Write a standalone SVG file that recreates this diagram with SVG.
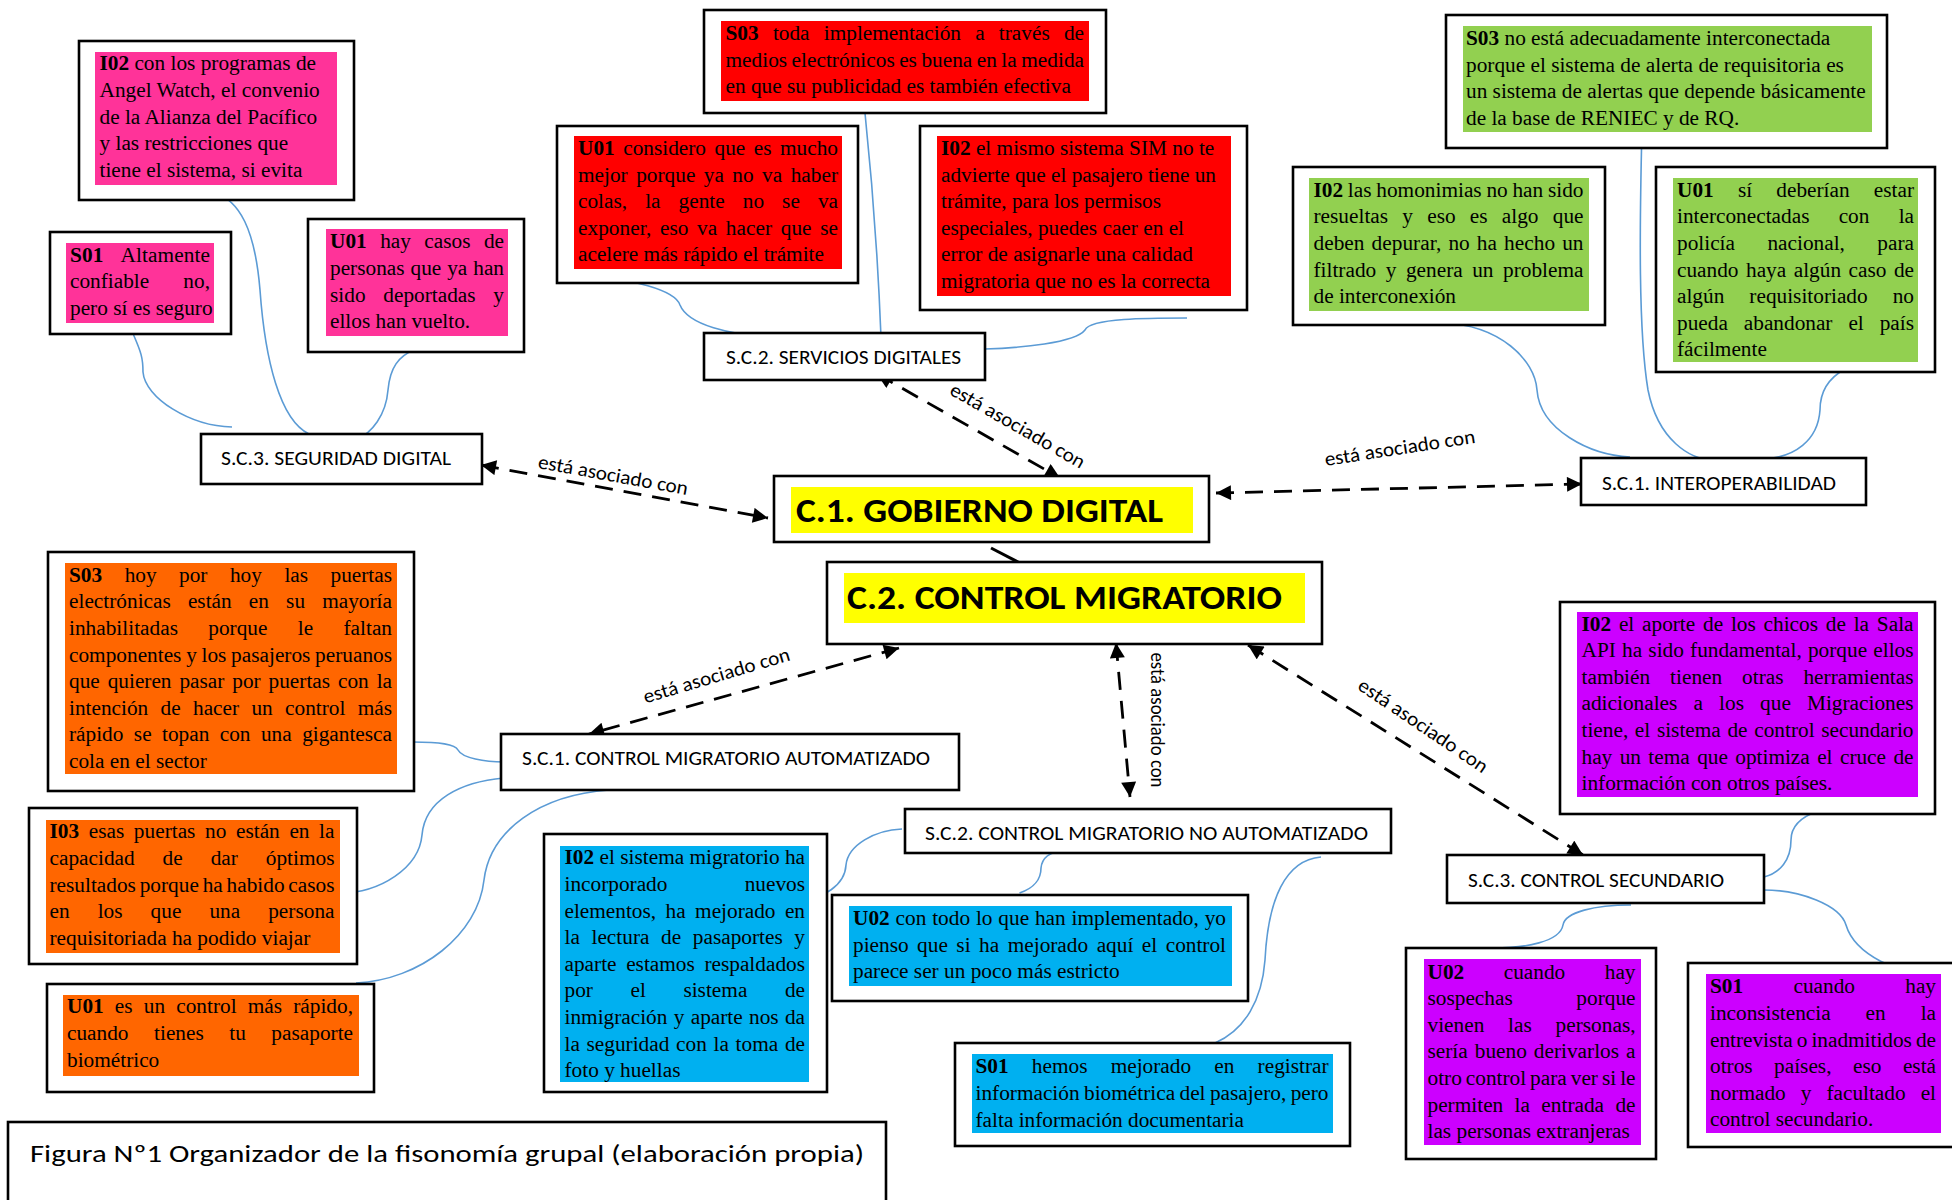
<svg xmlns="http://www.w3.org/2000/svg" width="1952" height="1200" viewBox="0 0 1952 1200">
<style>
.t{font-family:"Liberation Serif","Times New Roman",serif;font-size:21.3px;fill:#000}
.b{font-weight:bold}
.box{fill:#fff;stroke:#000;stroke-width:2.6}
.lbl{font-family:Carlito,Lato,sans-serif;font-size:20px;fill:#000}
.big{font-family:Carlito,Lato,sans-serif;font-size:35px;font-weight:bold;fill:#000}
.as{font-family:Carlito,Lato,sans-serif;font-size:20px;fill:#000;text-anchor:middle}
.conn{fill:none;stroke:#5B9BD5;stroke-width:1.6}
.arr{fill:none;stroke:#000;stroke-width:2.8;stroke-dasharray:18 11;marker-start:url(#ah);marker-end:url(#ah)}
.pink{fill:#FF3399}.red{fill:#FF0000}.green{fill:#92D050}.orange{fill:#FF6600}.blue{fill:#00B0F0}.purple{fill:#CC00FF}.yellow{fill:#FFFF00}
</style>
<defs>
<marker id="ah" viewBox="0 0 10 10" refX="10" refY="5" markerWidth="16" markerHeight="15" markerUnits="userSpaceOnUse" orient="auto-start-reverse"><path d="M0,0 L10,5 L0,10 z" fill="#000"/></marker>
</defs>
<rect x="0" y="0" width="1952" height="1200" fill="#fff"/>

<g id="connectors">
<path class="conn" d="M133.6,335 C141,352 143,358 143,372 C145,398 190,426 232,427"/>
<path class="conn" d="M213,192 C240,200 255,230 260,290 C265,360 280,420 309,434"/>
<path class="conn" d="M416,349 C398,356 390,368 388,390 C386,415 372,433 356,440"/>
<path class="conn" d="M587,277 C630,278 675,290 680,305 C688,325 730,335 774,337"/>
<path class="conn" d="M865,113 C872,180 878,260 881,337"/>
<path class="conn" d="M1187,318 C1150,318 1090,318 1085,330 C1075,343 1020,348 985,349"/>
<path class="conn" d="M1443,323 C1500,325 1535,360 1537,390 C1540,430 1590,455 1630,457"/>
<path class="conn" d="M1641.5,149 C1640,220 1638,330 1648,390 C1658,440 1690,460 1714,460"/>
<path class="conn" d="M1845,369 C1825,380 1820,395 1820,410 C1818,440 1795,458 1762,459"/>
<path class="conn" d="M413,742 C440,742 455,744 458,750 C462,758 485,762 504,762"/>
<path class="conn" d="M504,778 C460,782 425,800 422,835 C419,868 380,893 340,893"/>
<path class="conn" d="M609,790 C540,795 490,830 484,880 C478,935 420,980 356,983"/>
<path class="conn" d="M793,904 C825,898 845,885 846,865 C848,845 875,830 902,829"/>
<path class="conn" d="M1019.5,893 C1035,888 1041,878 1041,868 C1042,858 1050,852 1063,851"/>
<path class="conn" d="M1215,1043 C1245,1030 1262,1000 1265,960 C1268,900 1285,860 1321,857"/>
<path class="conn" d="M1818,811 C1798,818 1791,828 1791,840 C1791,860 1780,873 1764,877"/>
<path class="conn" d="M1764,890 C1800,890 1840,905 1846,925 C1855,955 1900,975 1934,975"/>
<path class="conn" d="M1631,905 C1595,905 1565,912 1563,925 C1560,942 1525,948 1493,948"/>
<path class="arr" d="M481,465 L768,518"/>
<path class="arr" d="M877,374 L1060,478"/>
<path class="arr" d="M1216,493 L1582,484"/>
<path class="arr" d="M899,648 L589,734"/>
<path class="arr" d="M1116,643 L1130,797"/>
<path class="arr" d="M1248,645 L1583,855"/>
<path d="M991,548 L1020,563" stroke="#000" stroke-width="3" fill="none"/>
<text class="as" x="612" y="481.5" textLength="152" lengthAdjust="spacingAndGlyphs" transform="rotate(10.3 612 481.5)">está asociado con</text>
<text class="as" x="1014.4" y="431.3" textLength="152" lengthAdjust="spacingAndGlyphs" transform="rotate(29.7 1014.4 431.3)">está asociado con</text>
<text class="as" x="1400.8" y="454.4" textLength="152" lengthAdjust="spacingAndGlyphs" transform="rotate(-8.8 1400.8 454.4)">está asociado con</text>
<text class="as" x="718.3" y="681.8" textLength="152" lengthAdjust="spacingAndGlyphs" transform="rotate(-16.5 718.3 681.8)">está asociado con</text>
<text class="as" x="1151" y="720" textLength="135" lengthAdjust="spacingAndGlyphs" transform="rotate(90 1151 720)">está asociado con</text>
<text class="as" x="1419.5" y="731.1" textLength="152" lengthAdjust="spacingAndGlyphs" transform="rotate(34.1 1419.5 731.1)">está asociado con</text>
</g>

<g id="c1-gobierno-digital">
<rect class="box" x="774" y="476" width="435" height="66"/>
<rect class="yellow" x="791" y="487" width="402" height="46"/>
<text class="big" x="796" y="521.5" textLength="367" lengthAdjust="spacingAndGlyphs">C.1. GOBIERNO DIGITAL</text>
</g>
<g id="c2-control-migratorio">
<rect class="box" x="827" y="562" width="495" height="82"/>
<rect class="yellow" x="844" y="573" width="461" height="50"/>
<text class="big" x="847" y="608.5" textLength="435" lengthAdjust="spacingAndGlyphs">C.2. CONTROL MIGRATORIO</text>
</g>

<g id="sc3-seguridad-digital">
<rect class="box" x="201" y="434" width="281" height="50"/>
<text class="lbl" x="221" y="465" textLength="230" lengthAdjust="spacingAndGlyphs">S.C.3. SEGURIDAD DIGITAL</text>
</g>
<g id="sc2-servicios-digitales">
<rect class="box" x="704" y="333" width="281" height="47"/>
<text class="lbl" x="726" y="363.5" textLength="235" lengthAdjust="spacingAndGlyphs">S.C.2. SERVICIOS DIGITALES</text>
</g>
<g id="sc1-interoperabilidad">
<rect class="box" x="1581" y="458" width="285" height="47"/>
<text class="lbl" x="1602" y="490" textLength="234" lengthAdjust="spacingAndGlyphs">S.C.1. INTEROPERABILIDAD</text>
</g>
<g id="sc1-cma">
<rect class="box" x="501" y="734" width="458" height="56"/>
<text class="lbl" x="522" y="765" textLength="408" lengthAdjust="spacingAndGlyphs">S.C.1. CONTROL MIGRATORIO AUTOMATIZADO</text>
</g>
<g id="sc2-cmna">
<rect class="box" x="905" y="809" width="486" height="44"/>
<text class="lbl" x="925" y="840" textLength="443" lengthAdjust="spacingAndGlyphs">S.C.2. CONTROL MIGRATORIO NO AUTOMATIZADO</text>
</g>
<g id="sc3-control-secundario">
<rect class="box" x="1447" y="855" width="317" height="48"/>
<text class="lbl" x="1468" y="886.5" textLength="256" lengthAdjust="spacingAndGlyphs">S.C.3. CONTROL SECUNDARIO</text>
</g>

<g id="n-i02-pink">
<rect class="box" x="79" y="41" width="275" height="159"/>
<rect class="pink" x="95" y="52" width="242" height="133"/>
<text class="t" x="99.5" y="70.3"><tspan class="b">I02</tspan> con los programas de</text>
<text class="t" x="99.5" y="96.9">Angel Watch, el convenio</text>
<text class="t" x="99.5" y="123.5">de la Alianza del Pacífico</text>
<text class="t" x="99.5" y="150.1">y las restricciones que</text>
<text class="t" x="99.5" y="176.7">tiene el sistema, si evita</text>
</g>
<g id="n-s01-pink">
<rect class="box" x="50" y="232" width="181" height="102"/>
<rect class="pink" x="66" y="243" width="148" height="80"/>
<text class="t" x="70" y="261.7" textLength="140" lengthAdjust="spacing" style="word-spacing:12.8px"><tspan class="b">S01</tspan> Altamente</text>
<text class="t" x="70" y="288.3" textLength="140" lengthAdjust="spacing" style="word-spacing:28.8px">confiable no,</text>
<text class="t" x="70" y="314.9">pero sí es seguro</text>
</g>
<g id="n-u01-pink">
<rect class="box" x="308" y="219" width="216" height="133"/>
<rect class="pink" x="326" y="229" width="182" height="107"/>
<text class="t" x="330" y="248.3" textLength="174" lengthAdjust="spacing" style="word-spacing:8.1px"><tspan class="b">U01</tspan> hay casos de</text>
<text class="t" x="330" y="274.9" textLength="174" lengthAdjust="spacing" style="word-spacing:0.6px">personas que ya han</text>
<text class="t" x="330" y="301.5" textLength="174" lengthAdjust="spacing" style="word-spacing:12.4px">sido deportadas y</text>
<text class="t" x="330" y="328.1">ellos han vuelto.</text>
</g>

<g id="n-s03-red">
<rect class="box" x="704" y="10" width="402" height="103"/>
<rect class="red" x="721" y="21" width="368" height="80"/>
<text class="t" x="725.5" y="40" textLength="358.5" lengthAdjust="spacing" style="word-spacing:8.9px"><tspan class="b">S03</tspan> toda implementación a través de</text>
<text class="t" x="725.5" y="66.6" textLength="358.5" lengthAdjust="spacing" style="word-spacing:-0.9px">medios electrónicos es buena en la medida</text>
<text class="t" x="725.5" y="93.2">en que su publicidad es también efectiva</text>
</g>
<g id="n-u01-red">
<rect class="box" x="557" y="126" width="301" height="157"/>
<rect class="red" x="574" y="136" width="268" height="133"/>
<text class="t" x="578" y="155" textLength="260" lengthAdjust="spacing" style="word-spacing:3.2px"><tspan class="b">U01</tspan> considero que es mucho</text>
<text class="t" x="578" y="181.6" textLength="260" lengthAdjust="spacing" style="word-spacing:3.1px">mejor porque ya no va haber</text>
<text class="t" x="578" y="208.2" textLength="260" lengthAdjust="spacing" style="word-spacing:12.7px">colas, la gente no se va</text>
<text class="t" x="578" y="234.8" textLength="260" lengthAdjust="spacing" style="word-spacing:3.3px">exponer, eso va hacer que se</text>
<text class="t" x="578" y="261.4">acelere más rápido el trámite</text>
</g>
<g id="n-i02-red">
<rect class="box" x="920" y="126" width="327" height="184"/>
<rect class="red" x="937" y="136" width="294" height="160"/>
<text class="t" x="941" y="155"><tspan class="b">I02</tspan> el mismo sistema SIM no te</text>
<text class="t" x="941" y="181.6">advierte que el pasajero tiene un</text>
<text class="t" x="941" y="208.2">trámite, para los permisos</text>
<text class="t" x="941" y="234.8">especiales, puedes caer en el</text>
<text class="t" x="941" y="261.4">error de asignarle una calidad</text>
<text class="t" x="941" y="288">migratoria que no es la correcta</text>
</g>

<g id="n-s03-green">
<rect class="box" x="1446" y="15" width="441" height="133"/>
<rect class="green" x="1463" y="26" width="409" height="106"/>
<text class="t" x="1466" y="45"><tspan class="b">S03</tspan> no está adecuadamente interconectada</text>
<text class="t" x="1466" y="71.6">porque el sistema de alerta de requisitoria es</text>
<text class="t" x="1466" y="98.2">un sistema de alertas que depende básicamente</text>
<text class="t" x="1466" y="124.8">de la base de RENIEC y de RQ.</text>
</g>
<g id="n-i02-green">
<rect class="box" x="1293" y="167" width="312" height="158"/>
<rect class="green" x="1309" y="178" width="280" height="133"/>
<text class="t" x="1313.5" y="196.7" textLength="270" lengthAdjust="spacing" style="word-spacing:-0.6px"><tspan class="b">I02</tspan> las homonimias no han sido</text>
<text class="t" x="1313.5" y="223.3" textLength="270" lengthAdjust="spacing" style="word-spacing:8.9px">resueltas y eso es algo que</text>
<text class="t" x="1313.5" y="249.9" textLength="270" lengthAdjust="spacing" style="word-spacing:1.7px">deben depurar, no ha hecho un</text>
<text class="t" x="1313.5" y="276.5" textLength="270" lengthAdjust="spacing" style="word-spacing:4.2px">filtrado y genera un problema</text>
<text class="t" x="1313.5" y="303.1">de interconexión</text>
</g>
<g id="n-u01-green">
<rect class="box" x="1656" y="167" width="279" height="205"/>
<rect class="green" x="1673" y="178" width="245" height="184"/>
<text class="t" x="1677" y="196.7" textLength="237" lengthAdjust="spacing" style="word-spacing:18.9px"><tspan class="b">U01</tspan> sí deberían estar</text>
<text class="t" x="1677" y="223.3" textLength="237" lengthAdjust="spacing" style="word-spacing:23.9px">interconectadas con la</text>
<text class="t" x="1677" y="249.9" textLength="237" lengthAdjust="spacing" style="word-spacing:27.1px">policía nacional, para</text>
<text class="t" x="1677" y="276.5" textLength="237" lengthAdjust="spacing" style="word-spacing:2.2px">cuando haya algún caso de</text>
<text class="t" x="1677" y="303.1" textLength="237" lengthAdjust="spacing" style="word-spacing:19.7px">algún requisitoriado no</text>
<text class="t" x="1677" y="329.7" textLength="237" lengthAdjust="spacing" style="word-spacing:10.6px">pueda abandonar el país</text>
<text class="t" x="1677" y="356.3">fácilmente</text>
</g>

<g id="n-s03-orange">
<rect class="box" x="48" y="552" width="366" height="239"/>
<rect class="orange" x="65" y="563" width="332" height="211"/>
<text class="t" x="69" y="581.7" textLength="323" lengthAdjust="spacing" style="word-spacing:17.2px"><tspan class="b">S03</tspan> hoy por hoy las puertas</text>
<text class="t" x="69" y="608.3" textLength="323" lengthAdjust="spacing" style="word-spacing:11.8px">electrónicas están en su mayoría</text>
<text class="t" x="69" y="634.9" textLength="323" lengthAdjust="spacing" style="word-spacing:25px">inhabilitadas porque le faltan</text>
<text class="t" x="69" y="661.5" textLength="323" lengthAdjust="spacing" style="word-spacing:-0.6px">componentes y los pasajeros peruanos</text>
<text class="t" x="69" y="688.1" textLength="323" lengthAdjust="spacing" style="word-spacing:2.6px">que quieren pasar por puertas con la</text>
<text class="t" x="69" y="714.7" textLength="323" lengthAdjust="spacing" style="word-spacing:7px">intención de hacer un control más</text>
<text class="t" x="69" y="741.3" textLength="323" lengthAdjust="spacing" style="word-spacing:5.1px">rápido se topan con una gigantesca</text>
<text class="t" x="69" y="767.9">cola en el sector</text>
</g>
<g id="n-i03-orange">
<rect class="box" x="29" y="808" width="328" height="156"/>
<rect class="orange" x="46" y="820" width="294" height="133"/>
<text class="t" x="49.5" y="838.3" textLength="285" lengthAdjust="spacing" style="word-spacing:4.3px"><tspan class="b">I03</tspan> esas puertas no están en la</text>
<text class="t" x="49.5" y="864.9" textLength="285" lengthAdjust="spacing" style="word-spacing:22.6px">capacidad de dar óptimos</text>
<text class="t" x="49.5" y="891.5" textLength="285" lengthAdjust="spacing" style="word-spacing:-1.5px">resultados porque ha habido casos</text>
<text class="t" x="49.5" y="918.1" textLength="285" lengthAdjust="spacing" style="word-spacing:22.7px">en los que una persona</text>
<text class="t" x="49.5" y="944.7">requisitoriada ha podido viajar</text>
</g>
<g id="n-u01-orange">
<rect class="box" x="47" y="984" width="327" height="108"/>
<rect class="orange" x="63" y="995" width="296" height="81"/>
<text class="t" x="67" y="1013.3" textLength="286" lengthAdjust="spacing" style="word-spacing:5.8px"><tspan class="b">U01</tspan> es un control más rápido,</text>
<text class="t" x="67" y="1039.9" textLength="286" lengthAdjust="spacing" style="word-spacing:20.2px">cuando tienes tu pasaporte</text>
<text class="t" x="67" y="1066.5">biométrico</text>
</g>

<g id="n-i02-blue">
<rect class="box" x="544" y="834" width="283" height="258"/>
<rect class="blue" x="560" y="846" width="249" height="236"/>
<text class="t" x="564.5" y="864.3" textLength="240.5" lengthAdjust="spacing"><tspan class="b">I02</tspan> el sistema migratorio ha</text>
<text class="t" x="564.5" y="890.9" textLength="240.5" lengthAdjust="spacing" style="word-spacing:71.9px">incorporado nuevos</text>
<text class="t" x="564.5" y="917.5" textLength="240.5" lengthAdjust="spacing" style="word-spacing:4.1px">elementos, ha mejorado en</text>
<text class="t" x="564.5" y="944.1" textLength="240.5" lengthAdjust="spacing" style="word-spacing:6.3px">la lectura de pasaportes y</text>
<text class="t" x="564.5" y="970.7" textLength="240.5" lengthAdjust="spacing" style="word-spacing:4.3px">aparte estamos respaldados</text>
<text class="t" x="564.5" y="997.3" textLength="240.5" lengthAdjust="spacing" style="word-spacing:32.2px">por el sistema de</text>
<text class="t" x="564.5" y="1023.9" textLength="240.5" lengthAdjust="spacing" style="word-spacing:1px">inmigración y aparte nos da</text>
<text class="t" x="564.5" y="1050.5" textLength="240.5" lengthAdjust="spacing" style="word-spacing:1.4px">la seguridad con la toma de</text>
<text class="t" x="564.5" y="1077.1">foto y huellas</text>
</g>
<g id="n-u02-blue">
<rect class="box" x="832" y="895" width="416" height="106"/>
<rect class="blue" x="849" y="906" width="383" height="80"/>
<text class="t" x="853" y="925" textLength="373" lengthAdjust="spacing" style="word-spacing:0.5px"><tspan class="b">U02</tspan> con todo lo que han implementado, yo</text>
<text class="t" x="853" y="951.6" textLength="373" lengthAdjust="spacing" style="word-spacing:3.2px">pienso que si ha mejorado aquí el control</text>
<text class="t" x="853" y="978.2">parece ser un poco más estricto</text>
</g>
<g id="n-s01-blue">
<rect class="box" x="955" y="1043" width="395" height="103"/>
<rect class="blue" x="972" y="1054" width="361" height="79"/>
<text class="t" x="975.5" y="1073.3" textLength="353" lengthAdjust="spacing" style="word-spacing:17.9px"><tspan class="b">S01</tspan> hemos mejorado en registrar</text>
<text class="t" x="975.5" y="1099.9" textLength="353" lengthAdjust="spacing" style="word-spacing:-0.9px">información biométrica del pasajero, pero</text>
<text class="t" x="975.5" y="1126.5">falta información documentaria</text>
</g>

<g id="n-i02-purple">
<rect class="box" x="1560" y="602" width="375" height="212"/>
<rect class="purple" x="1577" y="612" width="341" height="185"/>
<text class="t" x="1581.5" y="630.6" textLength="332" lengthAdjust="spacing" style="word-spacing:2.5px"><tspan class="b">I02</tspan> el aporte de los chicos de la Sala</text>
<text class="t" x="1581.5" y="657.2" textLength="332" lengthAdjust="spacing" style="word-spacing:0.9px">API ha sido fundamental, porque ellos</text>
<text class="t" x="1581.5" y="683.8" textLength="332" lengthAdjust="spacing" style="word-spacing:14.6px">también tienen otras herramientas</text>
<text class="t" x="1581.5" y="710.4" textLength="332" lengthAdjust="spacing" style="word-spacing:10.8px">adicionales a los que Migraciones</text>
<text class="t" x="1581.5" y="737" textLength="332" lengthAdjust="spacing" style="word-spacing:1.3px">tiene, el sistema de control secundario</text>
<text class="t" x="1581.5" y="763.6" textLength="332" lengthAdjust="spacing" style="word-spacing:2.1px">hay un tema que optimiza el cruce de</text>
<text class="t" x="1581.5" y="790.2">información con otros países.</text>
</g>
<g id="n-u02-purple">
<rect class="box" x="1406" y="948" width="250" height="211"/>
<rect class="purple" x="1424" y="959" width="217" height="186"/>
<text class="t" x="1427.5" y="978.6" textLength="208" lengthAdjust="spacing" style="word-spacing:34.2px"><tspan class="b">U02</tspan> cuando hay</text>
<text class="t" x="1427.5" y="1005.2" textLength="208" lengthAdjust="spacing" style="word-spacing:58.3px">sospechas porque</text>
<text class="t" x="1427.5" y="1031.8" textLength="208" lengthAdjust="spacing" style="word-spacing:18.5px">vienen las personas,</text>
<text class="t" x="1427.5" y="1058.4" textLength="208" lengthAdjust="spacing" style="word-spacing:1.7px">sería bueno derivarlos a</text>
<text class="t" x="1427.5" y="1085" textLength="208" lengthAdjust="spacing" style="word-spacing:-1.3px">otro control para ver si le</text>
<text class="t" x="1427.5" y="1111.6" textLength="208" lengthAdjust="spacing" style="word-spacing:6px">permiten la entrada de</text>
<text class="t" x="1427.5" y="1138.2">las personas extranjeras</text>
</g>
<g id="n-s01-purple">
<rect class="box" x="1688" y="963" width="270" height="184"/>
<rect class="purple" x="1706" y="974" width="235" height="159"/>
<text class="t" x="1710" y="993.3" textLength="226" lengthAdjust="spacing" style="word-spacing:45px"><tspan class="b">S01</tspan> cuando hay</text>
<text class="t" x="1710" y="1019.9" textLength="226" lengthAdjust="spacing" style="word-spacing:29.6px">inconsistencia en la</text>
<text class="t" x="1710" y="1046.5" textLength="226" lengthAdjust="spacing" style="word-spacing:-1.2px">entrevista o inadmitidos de</text>
<text class="t" x="1710" y="1073.1" textLength="226" lengthAdjust="spacing" style="word-spacing:16.2px">otros países, eso está</text>
<text class="t" x="1710" y="1099.7" textLength="226" lengthAdjust="spacing" style="word-spacing:9.7px">normado y facultado el</text>
<text class="t" x="1710" y="1126.3">control secundario.</text>
</g>

<g id="caption">
<rect class="box" x="8" y="1122" width="878" height="80"/>
<text class="lbl" x="30" y="1162" style="font-size:25px" textLength="834" lengthAdjust="spacingAndGlyphs">Figura Nº1 Organizador de la fisonomía grupal (elaboración propia)</text>
</g>
</svg>
